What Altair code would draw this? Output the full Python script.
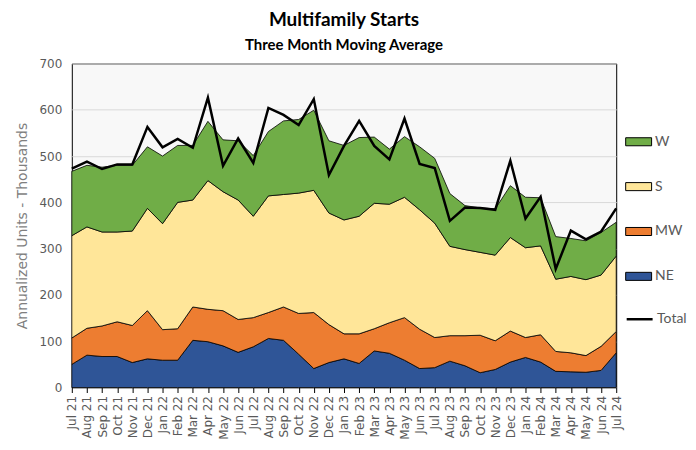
import altair as alt
import pandas as pd

months = ["Jul 21", "Aug 21", "Sep 21", "Oct 21", "Nov 21", "Dec 21", "Jan 22", "Feb 22",
          "Mar 22", "Apr 22", "May 22", "Jun 22", "Jul 22", "Aug 22", "Sep 22", "Oct 22",
          "Nov 22", "Dec 22", "Jan 23", "Feb 23", "Mar 23", "Apr 23", "May 23", "Jun 23",
          "Jul 23", "Aug 23", "Sep 23", "Oct 23", "Nov 23", "Dec 23", "Jan 24", "Feb 24",
          "Mar 24", "Apr 24", "May 24", "Jun 24", "Jul 24"]

ne = [50, 70, 67, 67, 54, 62, 59, 59, 102, 99, 90, 76, 88, 106, 102, 72, 41, 54, 62, 52,
      79, 74, 59, 41, 43, 57, 47, 32, 39, 55, 65, 55, 35, 34, 33, 37, 75]
mw = [57, 58, 66, 75, 80, 104, 66, 68, 72, 70, 76, 71, 63, 56, 72, 88, 121, 82, 54, 64,
      48, 66, 92, 85, 65, 55, 65, 81, 62, 67, 43, 59, 43, 41, 36, 52, 46]
s = [221, 219, 203, 194, 204, 221, 229, 273, 231, 278, 257, 258, 219, 252, 243, 260, 264,
     241, 246, 254, 271, 256, 260, 258, 247, 193, 186, 179, 185, 202, 194, 192, 156, 165,
     164, 154, 163]
w = [139, 133, 140, 144, 142, 133, 146, 123, 118, 128, 112, 128, 131, 139, 159, 159, 173,
     156, 161, 170, 143, 119, 131, 136, 140, 114, 95, 96, 100, 112, 109, 104, 92, 82, 84,
     92, 73]
total = [473, 488, 472, 482, 482, 563, 519, 537, 518, 626, 479, 538, 485, 604, 589, 567,
         623, 459, 522, 576, 522, 493, 581, 483, 474, 360, 389, 388, 384, 490, 365, 412,
         256, 339, 320, 337, 387]

regions = ["NE", "MW", "S", "W"]
legend_order = ["W", "S", "MW", "NE"]
colors = ["#70AD47", "#FFE699", "#ED7D31", "#2F5597"]

rows = []
for k, (name, vals) in enumerate(zip(regions, [ne, mw, s, w])):
    for m, v in zip(months, vals):
        rows.append({"month": m, "region": name, "value": v, "ord": k})
area_df = pd.DataFrame(rows)
total_df = pd.DataFrame({"month": months, "total": total, "series": "Total"})

xenc = alt.X("month:N", sort=months, scale=alt.Scale(type="point", padding=0),
             axis=alt.Axis(title=None, labelAngle=270, labelFont="DejaVu Sans",
                           labelFontSize=12, labelColor="#595959", ticks=True,
                           tickColor="black", tickSize=5, labelPadding=3,
                           domain=False, grid=False))

area = alt.Chart(area_df).mark_area(stroke="black", strokeWidth=0.8, opacity=1).encode(
    x=xenc,
    y=alt.Y("value:Q", stack="zero",
            scale=alt.Scale(domain=[0, 700], nice=False),
            axis=alt.Axis(title="Annualized Units - Thousands", values=list(range(0, 701, 50)),
                          labelFont="DejaVu Sans", labelFontSize=12, labelColor="#595959",
                          titleFont="DejaVu Sans", titleFontSize=14, titleColor="#7F7F7F",
                          titleFontWeight="normal", titlePadding=10,
                          ticks=False, domain=False, gridColor="#D9D9D9", labelPadding=10)),
    color=alt.Color("region:N", scale=alt.Scale(domain=legend_order, range=colors),
                    legend=alt.Legend(title=None, orient="none", legendX=555, legendY=65,
                                      symbolType="M-1,-0.31H1V0.31H-1Z", symbolSize=676,
                                      symbolStrokeColor="black", symbolStrokeWidth=1,
                                      symbolOpacity=1,
                                      rowPadding=24, labelFont="Lato", labelFontSize=14,
                                      labelColor="#595959", labelOffset=3)),
    order=alt.Order("ord:Q", sort="ascending"),
)

line = alt.Chart(total_df).mark_line(strokeWidth=2.5).encode(
    x=alt.X("month:N", sort=months),
    y=alt.Y("total:Q"),
    stroke=alt.Stroke("series:N", scale=alt.Scale(domain=["Total"], range=["black"]),
                      legend=alt.Legend(title=None, orient="none", legendX=555, legendY=242,
                                        symbolType="stroke", symbolSize=676,
                                        symbolStrokeWidth=2.5, labelFont="Lato",
                                        labelFontSize=14, labelColor="#595959",
                                        labelOffset=3)),
)

chart = alt.layer(area, line).resolve_scale(color="independent").properties(
    width=546, height=325,
    autosize=alt.AutoSizeParams(type="none"),
    padding={"left": 64, "top": 55, "right": 72, "bottom": 60},
    title=alt.TitleParams(text="Multifamily  Starts", subtitle="Three Month Moving Average",
                          font="Lato", fontSize=19, fontWeight="bold", color="black",
                          subtitleFont="Lato", subtitleFontSize=15, subtitleFontWeight="bold",
                          subtitleColor="black", subtitlePadding=8, anchor="middle",
                          offset=5),
    background="white",
).configure_view(fill="#F8F8F8", stroke="black", strokeWidth=1)

chart.save("out.html", embed_options={"renderer": "svg", "actions": False})
